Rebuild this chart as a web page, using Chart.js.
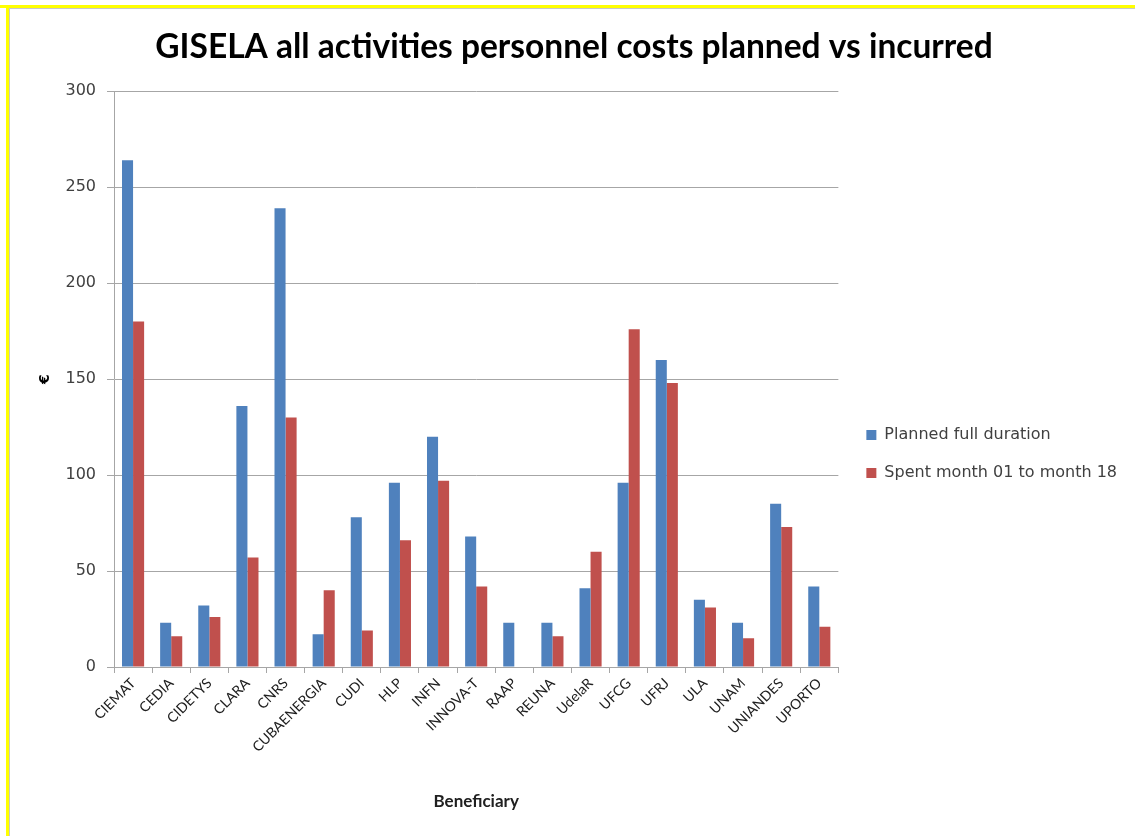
<!DOCTYPE html>
<html>
<head>
<meta charset="utf-8">
<script src="https://cdn.jsdelivr.net/npm/chart.js@4.4.1/dist/chart.umd.min.js"></script>
<style>
  html, body { margin: 0; padding: 0; background: #fff; }
  #wrap { width: 1135px; height: 836px; }
</style>
</head>
<body>
<div id="wrap"><canvas id="myBarChart" width="1135" height="836"></canvas></div>
<script>
var beneficiaries = ['CIEMAT', 'CEDIA', 'CIDETYS', 'CLARA', 'CNRS', 'CUBAENERGIA', 'CUDI', 'HLP', 'INFN', 'INNOVA-T',
    'RAAP', 'REUNA', 'UdelaR', 'UFCG', 'UFRJ', 'ULA', 'UNAM', 'UNIANDES', 'UPORTO'];
var planned = [264, 23, 32, 136, 239, 17, 78, 96, 120, 68, 23, 23, 41, 96, 160, 35, 23, 85, 42];
var spent = [180, 16, 26, 57, 130, 40, 19, 66, 97, 42, 0, 16, 60, 176, 148, 31, 15, 73, 21];
var yTicks = [0, 50, 100, 150, 200, 250, 300];

// yellow frame round the picture, like the screenshot
var framePlugin = {
    id: 'frame',
    beforeDraw: function(chart){
        var ctx = chart.ctx;
        ctx.save();
        ctx.fillStyle = '#ffffff';
        ctx.fillRect(0, 0, chart.width, chart.height);
        ctx.fillStyle = '#ffff00';
        ctx.fillRect(0, 5, chart.width, 3);
        ctx.fillRect(6, 5, 3, chart.height);
        ctx.fillStyle = '#c8c8c8';
        ctx.fillRect(9, 8, chart.width, 1);
        ctx.fillRect(9, 8, 1, chart.height);
        ctx.restore();
    }
};

// legend is capped in width by the layout, so nudge it (and the title) after layout
var shiftPlugin = {
    id: 'shift',
    afterLayout: function(chart){
        chart.legend.left += 20;
        chart.legend.right += 20;
        chart.titleBlock.left += 11;
        chart.titleBlock.right += 11;
    }
};

function chart(){
    var data = {
        labels: beneficiaries,
        datasets: [
            {
                label: 'Planned full duration',
                backgroundColor: '#4f81bd',
                borderWidth: 0,
                data: planned
            },
            {
                label: 'Spent month 01 to month 18',
                backgroundColor: '#c0504d',
                borderWidth: 0,
                data: spent
            }
        ]
    };

    var ctx = document.getElementById('myBarChart');
    new Chart(ctx, {
        type: 'bar',
        data: data,
        plugins: [framePlugin, shiftPlugin],
        options: {
            responsive: false,
            animation: false,
            layout: { padding: { left: 19, right: 28, top: 0, bottom: 0 } },
            datasets: { bar: { categoryPercentage: 0.58, barPercentage: 1.0 } },
            plugins: {
                title: {
                    display: true,
                    text: 'GISELA all activities personnel costs planned vs incurred',
                    color: '#000000',
                    font: { family: 'Lato', size: 33.5, weight: 'bold' },
                    padding: { top: 27, bottom: 24 }
                },
                legend: {
                    position: 'right',
                    title: { display: true, text: ' ', padding: { top: 74, bottom: 0 }, font: { size: 10 } },
                    labels: {
                        boxWidth: 10,
                        boxHeight: 10,
                        padding: 8,
                        color: '#404040',
                        font: { family: 'DejaVu Sans', size: 16, lineHeight: '30px' },
                        generateLabels: function(c){
                            var items = Chart.defaults.plugins.legend.labels.generateLabels(c);
                            items.forEach(function(it){ it.text = [it.text]; });
                            return items;
                        }
                    }
                },
                tooltip: { enabled: false }
            },
            scales: {
                x: {
                    afterFit: function(scale){ scale.height = 169; },
                    grid: { drawOnChartArea: false, drawTicks: true, tickLength: 6, color: '#a6a6a6' },
                    border: { color: '#a6a6a6' },
                    ticks: {
                        minRotation: 45,
                        maxRotation: 45,
                        padding: 2,
                        color: '#202020',
                        font: { family: 'Lato', size: 14 }
                    },
                    title: {
                        display: true,
                        text: 'Beneficiary',
                        color: '#202020',
                        font: { family: 'Lato', size: 17, weight: 'bold' },
                        padding: { top: 0, bottom: 24 }
                    }
                },
                y: {
                    min: 0,
                    max: 300,
                    afterFit: function(scale){ scale.width = 95; },
                    afterBuildTicks: function(scale){
                        scale.ticks = yTicks.map(function(v){ return { value: v }; });
                    },
                    grid: { color: '#a6a6a6', tickLength: 7 },
                    border: { color: '#a6a6a6' },
                    ticks: {
                        padding: 11,
                        color: '#404040',
                        font: { family: 'DejaVu Sans', size: 16 }
                    },
                    title: {
                        display: true,
                        text: '€',
                        color: '#000000',
                        font: { family: 'DejaVu Sans', size: 14, weight: 'bold' },
                        padding: { top: 17.6, bottom: 0 }
                    }
                }
            }
        }
    });
}

chart();
</script>
</body>
</html>
